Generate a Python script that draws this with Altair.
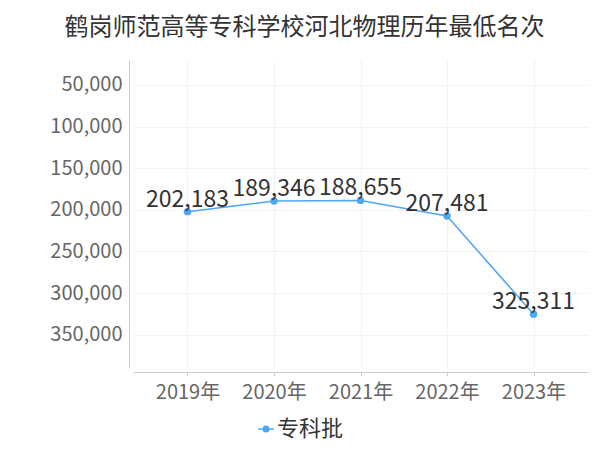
import altair as alt
import pandas as pd

years = ["2019年", "2020年", "2021年", "2022年", "2023年"]
ranks = [202183, 189346, 188655, 207481, 325311]
series = ["专科批"] * 5
y_ticks = [50000, 100000, 150000, 200000, 250000, 300000, 350000]

df = pd.DataFrame({"year": years, "rank": ranks, "series": series})

BLUE = "#4ea6f7"
FONT = "Noto Sans CJK SC"

x_enc = alt.X("year:N", sort=years, title=None,
              scale=alt.Scale(type="point", padding=0.63),
              axis=alt.Axis(labelAngle=0, labelFontSize=20, labelColor="#666666", labelFont=FONT,
                            domainColor="#cccccc", tickColor="#cccccc", tickSize=4, labelPadding=6,
                            offset=4, grid=True, gridColor="#f3f3f3"))
y_enc = alt.Y("rank:Q", title=None,
              scale=alt.Scale(domain=[20000, 390000], reverse=True, nice=False, zero=False),
              axis=alt.Axis(values=y_ticks, labelExpr="format(datum.value, ',')", labelFontSize=20,
                            labelColor="#666666", labelFont=FONT, domainColor="#cccccc",
                            ticks=False, labelPadding=7, offset=4, grid=True, gridColor="#f3f3f3"))

line = alt.Chart(df).mark_line(strokeWidth=1.5).encode(
    x=x_enc, y=y_enc,
    color=alt.Color("series:N", scale=alt.Scale(domain=["专科批"], range=[BLUE]),
                    legend=alt.Legend(title=None, orient="none", legendX=122, legendY=358,
                                      labelFont=FONT, labelFontSize=22, labelColor="#333333",
                                      symbolType="M-1,0L-0.35,0M0.35,0L1,0M-0.35,0A0.35,0.35,0,1,1,0.35,0A0.35,0.35,0,1,1,-0.35,0Z",
                                      symbolSize=256, symbolStrokeWidth=1.5,
                                      symbolFillColor=BLUE, symbolStrokeColor=BLUE,
                                      padding=0, labelOffset=0))
)
pts = alt.Chart(df).mark_circle(size=55, color=BLUE, opacity=1).encode(x=x_enc, y=y_enc)
labels = alt.Chart(df).mark_text(font=FONT, fontSize=23, color="#333333", baseline="alphabetic",
                                 dy=-5).encode(x=x_enc, y=y_enc, text=alt.Text("rank:Q", format=","))

chart = alt.layer(line, pts, labels).properties(
    width=455, height=308,
    autosize=alt.AutoSizeParams(type="none"),
    padding={"left": 125, "top": 52, "right": 4, "bottom": 74},
    title=alt.TitleParams("鹤岗师范高等专科学校河北物理历年最低名次", font=FONT, fontSize=24,
                          fontWeight="normal", color="#333333", anchor="middle", frame="group",
                          dx=-56, offset=20),
).configure_view(stroke=None)

chart.save("out.html", embed_options={"renderer": "svg", "actions": False})
